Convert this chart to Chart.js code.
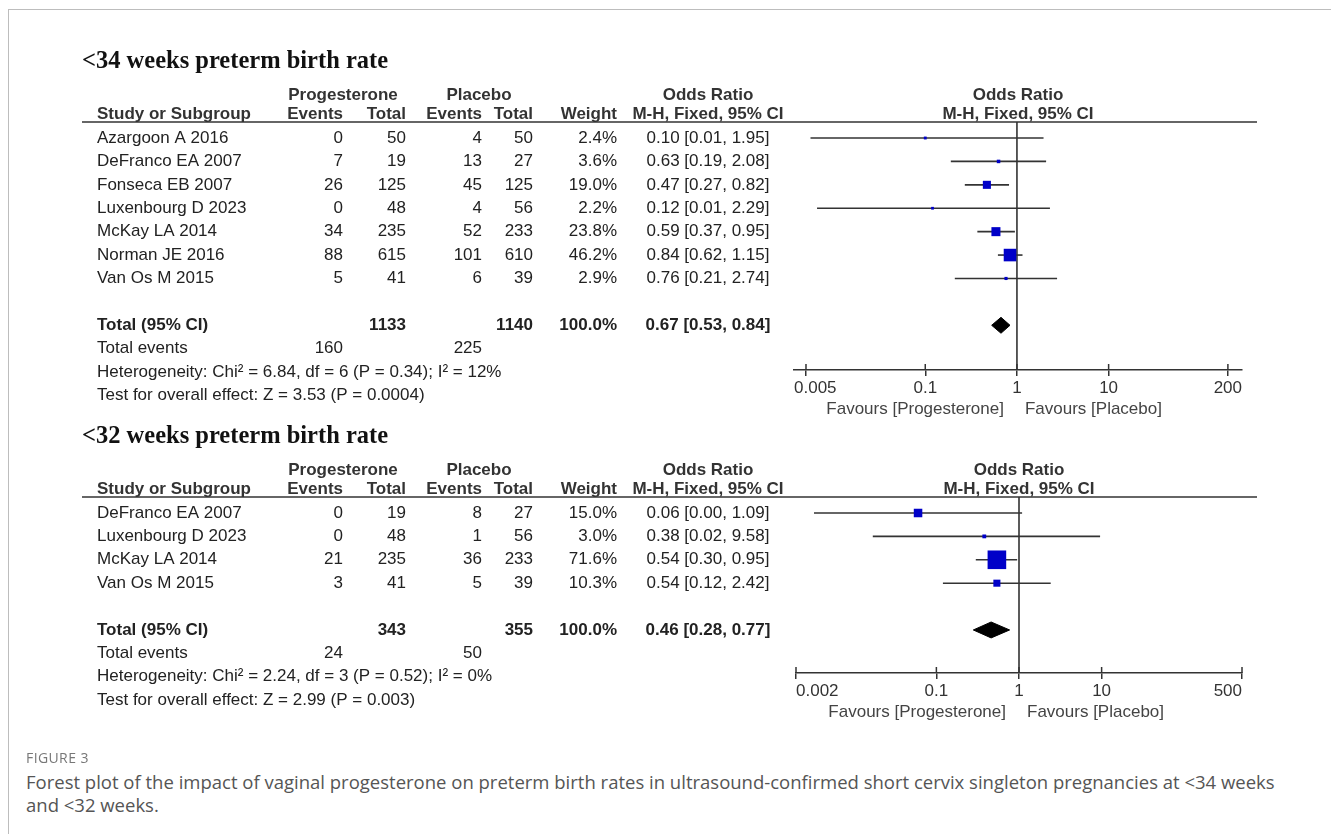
<!DOCTYPE html>
<html>
<head>
<meta charset="utf-8">
<script src="https://cdn.jsdelivr.net/npm/chart.js@4.4.1/dist/chart.umd.min.js"></script>
<style>
  html, body { margin: 0; padding: 0; background: #fff; }
  #page { position: relative; width: 1331px; height: 834px; overflow: hidden; background: #fff; }
  #frame { position: absolute; left: 8px; top: 9px; width: 1400px; height: 900px;
           border-top: 1px solid #bdbdbd; border-left: 1px solid #bdbdbd; }
  canvas { position: absolute; left: 0; }
  #c34 { top: 0; }
  #c32 { top: 420px; }
  .fig-label { position: absolute; left: 26px; top: 748px; font: 14px "Open Sans", sans-serif;
               color: #777; letter-spacing: 0.4px; }
  .caption { position: absolute; left: 26px; top: 770px; font: 18.5px/23px "Open Sans", sans-serif; color: #555;
             white-space: nowrap; }
</style>
</head>
<body>
<div id="page">
  <div id="frame"></div>
  <canvas id="c34" width="1331" height="430"></canvas>
  <canvas id="c32" width="1331" height="330"></canvas>
  <div class="fig-label">FIGURE 3</div>
  <div class="caption">Forest plot of the impact of vaginal progesterone on preterm birth rates in ultrasound-confirmed short cervix singleton pregnancies at &lt;34 weeks<br>and &lt;32 weeks.</div>
</div>
<script>
// <34 weeks
const studies34 = ['Azargoon A 2016', 'DeFranco EA 2007', 'Fonseca EB 2007', 'Luxenbourg D 2023', 'McKay LA 2014', 'Norman JE 2016', 'Van Os M 2015'];
const progEvents34 = [0, 7, 26, 0, 34, 88, 5];
const progTotal34 = [50, 19, 125, 48, 235, 615, 41];
const placEvents34 = [4, 13, 45, 4, 52, 101, 6];
const placTotal34 = [50, 27, 125, 56, 233, 610, 39];
const weight34 = [2.4, 3.6, 19.0, 2.2, 23.8, 46.2, 2.9];
const or34 = [0.10, 0.63, 0.47, 0.12, 0.59, 0.84, 0.76];
const lo34 = [0.0056, 0.19, 0.27, 0.0066, 0.37, 0.62, 0.21];
const hi34 = [1.95, 2.08, 0.82, 2.29, 0.95, 1.15, 2.74];
const pooled34 = [0.67, 0.53, 0.84];
const totals34 = [1133, 1140];
const events34 = [160, 225];
const stats34 = ['Heterogeneity: Chi\u00b2 = 6.84, df = 6 (P = 0.34); I\u00b2 = 12%', 'Test for overall effect: Z = 3.53 (P = 0.0004)'];
const ticks34 = [0.005, 0.1, 1, 10, 200];

// <32 weeks
const studies32 = ['DeFranco EA 2007', 'Luxenbourg D 2023', 'McKay LA 2014', 'Van Os M 2015'];
const progEvents32 = [0, 0, 21, 3];
const progTotal32 = [19, 48, 235, 41];
const placEvents32 = [8, 1, 36, 5];
const placTotal32 = [27, 56, 233, 39];
const weight32 = [15.0, 3.0, 71.6, 10.3];
const or32 = [0.06, 0.38, 0.54, 0.54];
const lo32 = [0.0033, 0.017, 0.30, 0.12];
const hi32 = [1.09, 9.58, 0.95, 2.42];
const pooled32 = [0.46, 0.28, 0.77];
const totals32 = [343, 355];
const events32 = [24, 50];
const stats32 = ['Heterogeneity: Chi\u00b2 = 2.24, df = 3 (P = 0.52); I\u00b2 = 0%', 'Test for overall effect: Z = 2.99 (P = 0.003)'];
const ticks32 = [0.002, 0.1, 1, 10, 500];

const SANS = '"Liberation Sans", Arial, Helvetica, sans-serif';
const FONT = '17px ' + SANS;
const BOLD = 'bold 17px ' + SANS;
const INK = '#222';
const LINE = '#333';
const BLUE = '#0000c8';
const DIAMOND_HALF = 0.34; // row units

// table columns (px)
const COL = {
  left: 82, study: 97, progEv: 343, progTot: 406, placEv: 482, placTot: 533,
  weight: 617, orMid: 708, progMid: 343, placMid: 479, lineRight: 1257,
};

Chart.defaults.font.family = SANS;

const fmtOR = (m, l, h) => `${ m.toFixed(2) } [${ l.toFixed(2) }, ${ h.toFixed(2) }]`;

function tablePlugin(p) {
  return {
    id: 'forestTable',
    afterDraw(chart) {
      const ctx = chart.ctx;
      const xs = chart.scales.x;
      const ys = chart.scales.y;
      const area = chart.chartArea;
      const top = area.top;
      const n = p.studies.length;

      const put = (s, x, y, align, font, color) => {
        ctx.font = font || FONT;
        ctx.fillStyle = color || INK;
        ctx.textAlign = align;
        ctx.fillText(s, x, y);
      };

      ctx.save();

      // title
      ctx.textBaseline = 'alphabetic';
      put(p.title, COL.left, top - 54, 'left', 'bold 24.5px "Liberation Serif", "Times New Roman", serif', '#111');

      // header rows
      const h1 = top - 22;
      const h2 = top - 3;
      put('Progesterone', COL.progMid, h1, 'center', BOLD, LINE);
      put('Placebo', COL.placMid, h1, 'center', BOLD, LINE);
      put('Odds Ratio', COL.orMid, h1, 'center', BOLD, LINE);
      put('Study or Subgroup', COL.study, h2, 'left', BOLD, LINE);
      put('Events', COL.progEv, h2, 'right', BOLD, LINE);
      put('Total', COL.progTot, h2, 'right', BOLD, LINE);
      put('Events', COL.placEv, h2, 'right', BOLD, LINE);
      put('Total', COL.placTot, h2, 'right', BOLD, LINE);
      put('Weight', COL.weight, h2, 'right', BOLD, LINE);
      put('M-H, Fixed, 95% CI', COL.orMid, h2, 'center', BOLD, LINE);
      const mid = (area.left + area.right) / 2;
      put('Odds Ratio', mid, h1, 'center', BOLD, LINE);
      put('M-H, Fixed, 95% CI', mid, h2, 'center', BOLD, LINE);

      ctx.strokeStyle = LINE;
      ctx.lineWidth = 1.5;
      ctx.beginPath();
      ctx.moveTo(COL.left, top);
      ctx.lineTo(COL.lineRight, top);
      ctx.stroke();

      // study rows
      ctx.textBaseline = 'middle';
      for (let i = 0; i < n; i++) {
        const y = ys.getPixelForValue(i);
        put(p.studies[i], COL.study, y, 'left');
        put(String(p.progEvents[i]), COL.progEv, y, 'right');
        put(String(p.progTotal[i]), COL.progTot, y, 'right');
        put(String(p.placEvents[i]), COL.placEv, y, 'right');
        put(String(p.placTotal[i]), COL.placTot, y, 'right');
        put(p.weight[i].toFixed(1) + '%', COL.weight, y, 'right');
        put(fmtOR(p.or[i], p.lo[i], p.hi[i]), COL.orMid, y, 'center');
      }

      // totals
      let y = ys.getPixelForValue(n + 1);
      put('Total (95% CI)', COL.study, y, 'left', BOLD);
      put(String(p.totals[0]), COL.progTot, y, 'right', BOLD);
      put(String(p.totals[1]), COL.placTot, y, 'right', BOLD);
      put('100.0%', COL.weight, y, 'right', BOLD);
      put(fmtOR(p.pooled[0], p.pooled[1], p.pooled[2]), COL.orMid, y, 'center', BOLD);

      y = ys.getPixelForValue(n + 2);
      put('Total events', COL.study, y, 'left');
      put(String(p.events[0]), COL.progEv, y, 'right');
      put(String(p.events[1]), COL.placEv, y, 'right');
      put(p.stats[0], COL.study, ys.getPixelForValue(n + 3), 'left');
      put(p.stats[1], COL.study, ys.getPixelForValue(n + 4), 'left');

      // tick marks crossing the axis line, and tick labels
      ctx.strokeStyle = LINE;
      ctx.lineWidth = 1.5;
      const last = p.ticks.length - 1;
      p.ticks.forEach((v, i) => {
        const px = xs.getPixelForValue(v);
        ctx.beginPath();
        ctx.moveTo(px, area.bottom - 6);
        ctx.lineTo(px, area.bottom);
        ctx.stroke();
        const align = i === 0 ? 'left' : (i === last ? 'right' : 'center');
        const lx = i === 0 ? area.left : (i === last ? area.right : px);
        put(String(v), lx, area.bottom + 18, align, FONT, LINE);
      });

      // favours labels
      const x1 = xs.getPixelForValue(1);
      const fy = area.bottom + 39;
      put('Favours [Progesterone]', x1 - 13, fy, 'right', FONT, '#444');
      put('Favours [Placebo]', x1 + 8, fy, 'left', FONT, '#444');

      ctx.restore();
    },
  };
}

function buildPanel(canvasId, p) {
  const n = p.studies.length;
  const totalRow = n + 1;
  const datasets = [];

  // study squares
  datasets.push({
    type: 'scatter',
    data: p.or.map((v, i) => ({ x: v, y: i })),
    pointStyle: 'rect',
    pointRadius: p.weight.map((w) => (p.squareK * Math.sqrt(w)) / Math.SQRT2),
    pointBackgroundColor: BLUE,
    pointBorderWidth: 0,
    pointBorderColor: BLUE,
    order: 0,
  });

  // confidence intervals
  p.lo.forEach((l, i) => {
    datasets.push({
      type: 'line',
      data: [ { x: l, y: i }, { x: p.hi[i], y: i } ],
      borderColor: LINE,
      borderWidth: 1.6,
      pointRadius: 0,
      fill: false,
      order: 2,
    });
  });

  // line of no effect
  datasets.push({
    type: 'line',
    data: [ { x: 1, y: p.yMin }, { x: 1, y: p.yMax } ],
    borderColor: LINE,
    borderWidth: 1.6,
    pointRadius: 0,
    fill: false,
    order: 3,
  });

  // pooled diamond
  const [ m, l, h ] = p.pooled;
  datasets.push({
    type: 'line',
    data: [
      { x: l, y: totalRow },
      { x: m, y: totalRow - DIAMOND_HALF },
      { x: h, y: totalRow },
      { x: m, y: totalRow + DIAMOND_HALF },
      { x: l, y: totalRow },
    ],
    borderColor: '#000',
    backgroundColor: '#000',
    borderWidth: 1,
    pointRadius: 0,
    tension: 0,
    fill: 'shape',
    order: 1,
  });

  return new Chart(document.getElementById(canvasId), {
    type: 'scatter',
    data: { datasets },
    options: {
      responsive: false,
      animation: false,
      events: [],
      layout: { padding: p.padding },
      plugins: { legend: { display: false }, tooltip: { enabled: false } },
      scales: {
        x: {
          type: 'logarithmic',
          min: p.xMin,
          max: p.xMax,
          afterBuildTicks: (axis) => { axis.ticks = p.ticks.map((value) => ({ value })); },
          afterFit: (axis) => { axis.height = 0; },
          border: { display: true, color: LINE, width: 1.5 },
          grid: { drawOnChartArea: false, drawTicks: true, tickLength: 6, color: LINE, lineWidth: 1.5 },
          ticks: { display: false, autoSkip: false },
        },
        y: { type: 'linear', reverse: true, min: p.yMin, max: p.yMax, display: false },
      },
    },
    plugins: [ tablePlugin(p) ],
  });
}

buildPanel('c34', {
  title: '<34 weeks preterm birth rate',
  studies: studies34, progEvents: progEvents34, progTotal: progTotal34,
  placEvents: placEvents34, placTotal: placTotal34, weight: weight34,
  or: or34, lo: lo34, hi: hi34, pooled: pooled34, totals: totals34,
  events: events34, stats: stats34, ticks: ticks34,
  xMin: 0.0037, xMax: 285, yMin: -0.684, yMax: 9.91,
  padding: { left: 794, right: 89, top: 122, bottom: 60 },
  squareK: 1.85,
});

buildPanel('c32', {
  title: '<32 weeks preterm birth rate',
  studies: studies32, progEvents: progEvents32, progTotal: progTotal32,
  placEvents: placEvents32, placTotal: placTotal32, weight: weight32,
  or: or32, lo: lo32, hi: hi32, pooled: pooled32, totals: totals32,
  events: events32, stats: stats32, ticks: ticks32,
  xMin: 0.002, xMax: 500, yMin: -0.684, yMax: 6.84,
  padding: { left: 796, right: 89, top: 77, bottom: 77 },
  squareK: 2.2,
});
</script>
</body>
</html>
